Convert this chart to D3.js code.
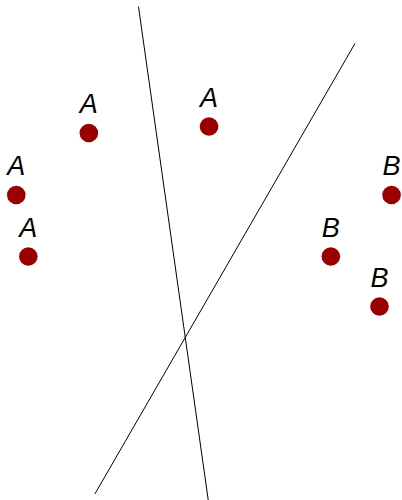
<!DOCTYPE html>
<html><head><meta charset="utf-8">
<script src="https://cdn.jsdelivr.net/npm/d3@7"></script>
<style>html,body{margin:0;padding:0;background:#fff;}svg{display:block;}</style>
</head><body>
<script>
// data in abstract units (0..100 both axes)
const labels = ["A","A","A","A","B","B","B"];
const xs = [22.1, 52.0, 4.05, 7.04, 97.4, 82.3, 94.4];
const ys = [73.4, 74.7, 61.0, 48.7, 61.0, 48.7, 38.7];
const line1 = [[34.45, 98.66], [51.8, 0.0]];
const line2 = [[88.3, 91.3], [23.6, 1.2]];

const W = 402, H = 500;
const x = d3.scaleLinear().domain([0,100]).range([0,W]);
const y = d3.scaleLinear().domain([0,100]).range([H,0]);

const svg = d3.select("body").append("svg").attr("width",W).attr("height",H);
const lineGen = d3.line().x(d=>x(d[0])).y(d=>y(d[1]));
[line1,line2].forEach(l=>{
  svg.append("path").attr("d",lineGen(l)).attr("fill","none")
    .attr("stroke","#000").attr("stroke-width",1);
});
const pts = labels.map((l,i)=>({l,x:xs[i],y:ys[i]}));
svg.selectAll("circle").data(pts).enter().append("circle")
  .attr("cx",d=>x(d.x)).attr("cy",d=>y(d.y)).attr("r",9.3)
  .attr("fill","#990000");
svg.selectAll("text").data(pts).enter().append("text")
  .attr("x",d=>x(d.x)).attr("y",d=>y(d.y)-20)
  .attr("text-anchor","middle")
  .attr("font-family","'Liberation Sans', Arial, sans-serif")
  .attr("font-style","italic").attr("font-size",27)
  .attr("fill","#000").text(d=>d.l);
</script>
</body></html>
